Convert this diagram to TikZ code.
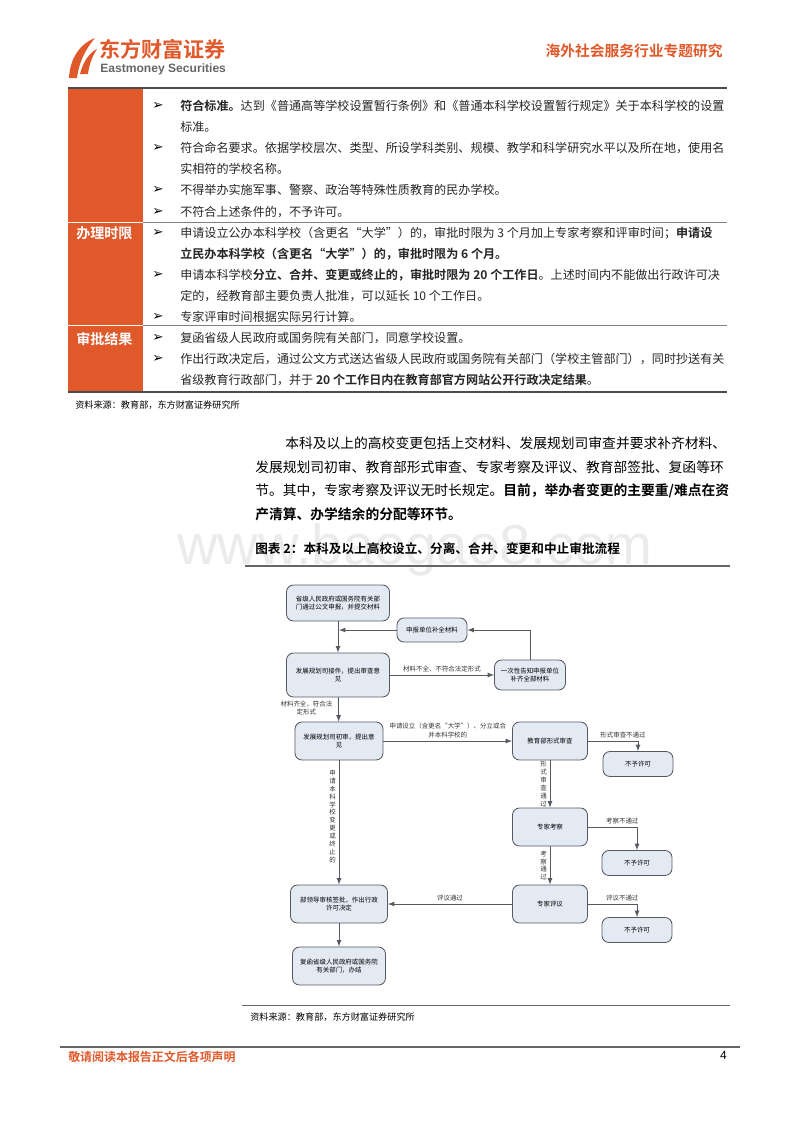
\documentclass[tikz,border=0pt]{standalone}
\usepackage{fontspec}
\setmainfont{Noto Sans CJK SC}[BoldFont={Noto Sans CJK SC Bold}]
\newfontfamily\latinsans{Liberation Sans}
\newfontfamily\symfont{DejaVu Sans}
\usetikzlibrary{positioning}
\definecolor{emorange}{HTML}{E0592A}
\definecolor{boxfill}{HTML}{E4EAF4}
\definecolor{boxline}{HTML}{555A60}
\newcommand{\tsize}{\fontsize{8.6pt}{10pt}\selectfont}
\newcommand{\psize}{\fontsize{9.8pt}{12pt}\selectfont}
\newcommand{\fsize}{\fontsize{4.6pt}{6.2pt}\selectfont}
\tikzset{
  tline/.style={anchor=west, inner sep=0pt, font=\tsize, text=black!85},
  bul/.style={anchor=west, inner sep=0pt, font=\symfont\fontsize{9.5pt}{10pt}\selectfont},
  pline/.style={anchor=west, inner sep=0pt, font=\psize},
  tlabel/.style={anchor=west, inner sep=0pt, font=\fontsize{10pt}{12pt}\selectfont\bfseries, text=white},
  flowbox/.style={draw=boxline, fill=boxfill, rounded corners=5pt, line width=0.6pt,
    align=center, font=\fsize, inner sep=1pt},
  flowarrow/.style={-latex, draw=boxline, line width=0.6pt},
  flabel/.style={font=\fsize, inner sep=1pt, align=center, text=black!80},
  vlabel/.style={font=\fsize, inner sep=1pt, align=center, text=black!80, execute at begin node=\setlength{\baselineskip}{5.6pt}},
}
\begin{document}
\begin{tikzpicture}[x=0.025cm, y=-0.025cm]
    \useasboundingbox (0,0) rectangle (800,1132);

    % header
    \fill[emorange] (69,78) .. controls (70,58) and (80,44) .. (95,38)
        .. controls (85,50) and (79,62) .. (77,78) -- cycle;
    \fill[emorange] (80,74) .. controls (83,62) and (89,53) .. (97,49)
        .. controls (92,57) and (89,65) .. (88,74) -- cycle;
    \node[anchor=west, inner sep=0pt, text=emorange, font=\fontsize{15pt}{17pt}\selectfont\bfseries] (logo) at (99,49) {东方财富证券};
    \node[anchor=west, inner sep=0pt, text=black!60, font=\latinsans\fontsize{8.6pt}{10pt}\selectfont\bfseries] (logoen) at (100,69) {Eastmoney Securities};
    \node[anchor=east, inner sep=0pt, text=emorange, font=\fontsize{10.5pt}{12pt}\selectfont\bfseries] (head) at (723,51) {海外社会服务行业专题研究};

    % table
    \fill[emorange] (68,88) rectangle (143,392);
    \draw[black!70, line width=0.8pt] (68,88) -- (727,88);
    \draw[black!50, line width=0.6pt] (143,222) -- (727,222);
    \draw[black!50, line width=0.6pt] (143,325) -- (727,325);
    \draw[white, line width=0.6pt] (68,222) -- (143,222);
    \draw[white, line width=0.6pt] (68,325) -- (143,325);
    \draw[black!70, line width=0.8pt] (68,392) -- (727,392);
    \node[tlabel] (lab2) at (76,233) {办理时限};
    \node[tlabel] (lab3) at (76,339) {审批结果};

    \foreach \y in {106,148,190,212,233,275,317,338,359}
        \node[bul] at (152,\y) {➢};

    \node[tline] (r1a) at (180,106) {\textbf{符合标准。}达到《普通高等学校设置暂行条例》和《普通本科学校设置暂行规定》关于本科学校的设置};
    \node[tline] (r1b) at (180,127) {标准。};
    \node[tline] (r1c) at (180,148) {符合命名要求。依据学校层次、类型、所设学科类别、规模、教学和科学研究水平以及所在地，使用名};
    \node[tline] (r1d) at (180,169) {实相符的学校名称。};
    \node[tline] (r1e) at (180,190) {不得举办实施军事、警察、政治等特殊性质教育的民办学校。};
    \node[tline] (r1f) at (180,212) {不符合上述条件的，不予许可。};
    \node[tline] (r2a) at (180,233) {申请设立公办本科学校（含更名“大学”）的，审批时限为 3 个月加上专家考察和评审时间；\textbf{申请设}};
    \node[tline] (r2b) at (180,254) {\textbf{立民办本科学校（含更名“大学”）的，审批时限为 6 个月。}};
    \node[tline] (r2c) at (180,275) {申请本科学校\textbf{分立、合并、变更或终止的，审批时限为 20 个工作日}。上述时间内不能做出行政许可决};
    \node[tline] (r2d) at (180,296) {定的，经教育部主要负责人批准，可以延长 10 个工作日。};
    \node[tline] (r2e) at (180,317) {专家评审时间根据实际另行计算。};
    \node[tline] (r3a) at (180,338) {复函省级人民政府或国务院有关部门，同意学校设置。};
    \node[tline] (r3b) at (180,359) {作出行政决定后，通过公文方式送达省级人民政府或国务院有关部门（学校主管部门），同时抄送有关};
    \node[tline] (r3c) at (180,380) {省级教育行政部门，并于 \textbf{20 个工作日内在教育部官方网站公开行政决定结果}。};
    \node[anchor=west, inner sep=0pt, font=\fontsize{6.5pt}{8pt}\selectfont] (src1) at (75,405) {资料来源：教育部，东方财富证券研究所};

    % paragraph
    \node[pline] (p1) at (285,443) {本科及以上的高校变更包括上交材料、发展规划司审查并要求补齐材料、};
    \node[pline] (p2) at (255,467) {发展规划司初审、教育部形式审查、专家考察及评议、教育部签批、复函等环};
    \node[pline] (p3) at (255,491) {节。其中，专家考察及评议无时长规定。\textbf{目前，举办者变更的主要重/难点在资}};
    \node[pline] (p4) at (255,514) {\textbf{产清算、办学结余的分配等环节。}};

    % watermark and caption
    \node[inner sep=0pt, text=black!8, font=\latinsans\fontsize{40pt}{42pt}\selectfont] (wm) at (415,550) {www.baogao8.com};
    \node[anchor=west, inner sep=0pt, font=\fontsize{9pt}{11pt}\selectfont\bfseries] (cap) at (255,549) {图表 2：本科及以上高校设立、分离、合并、变更和中止审批流程};
    \draw[black!60, line width=0.8pt] (245,566) -- (730,566);

    % flowchart
    \node[flowbox, minimum width=2.575cm, minimum height=0.9cm] (sheng) at (338,603) {省级人民政府或国务院有关部\\门通过公文申报，并提交材料};
    \node[flowbox, minimum width=1.75cm, minimum height=0.6cm] (buquan) at (432,630) {申报单位补全材料};
    \node[flowbox, minimum width=2.575cm, minimum height=1.1cm] (jiejian) at (338,675) {发展规划司接件，提出审查意\\见};
    \node[flowbox, minimum width=1.775cm, minimum height=0.75cm] (gaozhi) at (530,675) {一次性告知申报单位\\补齐全部材料};
    \node[flowbox, minimum width=2.2cm, minimum height=0.95cm] (chushen) at (339,741) {发展规划司初审，提出意\\见};
    \node[flowbox, minimum width=1.875cm, minimum height=0.95cm] (xingshi) at (550,741) {教育部形式审查};
    \node[flowbox, minimum width=1.75cm, minimum height=0.625cm] (no1) at (638,764) {不予许可};
    \node[flowbox, minimum width=1.875cm, minimum height=0.95cm] (kaocha) at (550,827) {专家考察};
    \node[flowbox, minimum width=1.75cm, minimum height=0.625cm] (no2) at (637,863) {不予许可};
    \node[flowbox, minimum width=1.875cm, minimum height=0.95cm] (pingyi) at (550,904) {专家评议};
    \node[flowbox, minimum width=1.75cm, minimum height=0.625cm] (no3) at (637,930) {不予许可};
    \node[flowbox, minimum width=2.425cm, minimum height=0.95cm] (qianpi) at (339,904) {部领导审核签批，作出行政\\许可决定};
    \node[flowbox, minimum width=2.325cm, minimum height=0.95cm] (fuhan) at (339,966) {复函省级人民政府或国务院\\有关部门，办结};

    \coordinate (join) at (339,630);
    \draw[flowarrow] (sheng) -- (jiejian);
    \draw[flowarrow] (buquan) -- (join);
    \draw[flowarrow] (jiejian) -- node[flabel, above=1pt] {材料不全、不符合法定形式} (gaozhi);
    \draw[flowarrow] (gaozhi.north) |- (buquan.east);
    \draw[flowarrow] (jiejian) -- (chushen);
    \node[flabel, anchor=east] (qiquan) at (334,708) {材料齐全，符合法\\定形式};
    \draw[flowarrow] (chushen) -- node[flabel, above=1pt] {申请设立（含更名“大学”）、分立或合\\并本科学校的} (xingshi);
    \draw[flowarrow] (xingshi.east) -| node[flabel, pos=0.35, above=1pt] {形式审查不通过} (no1.north);
    \draw[flowarrow] (xingshi) -- node[vlabel, left=1pt] {形\\式\\审\\查\\通\\过} (kaocha);
    \draw[flowarrow] (kaocha.east) -| node[flabel, pos=0.35, above=1pt] {考察不通过} (no2.north);
    \draw[flowarrow] (kaocha) -- node[vlabel, left=1pt] {考\\察\\通\\过} (pingyi);
    \draw[flowarrow] (pingyi.east) -| node[flabel, pos=0.35, above=1pt] {评议不通过} (no3.north);
    \draw[flowarrow] (pingyi) -- node[flabel, above=1pt] {评议通过} (qianpi);
    \draw[flowarrow] (chushen) -- node[vlabel, left=1pt, pos=0.45] {申\\请\\本\\科\\学\\校\\变\\更\\或\\终\\止\\的} (qianpi);
    \draw[flowarrow] (qianpi) -- (fuhan);

    % source and footer
    \draw[black!60, line width=0.6pt] (242,1005) -- (730,1005);
    \node[anchor=west, inner sep=0pt, font=\fontsize{6.5pt}{8pt}\selectfont] (src2) at (250,1017) {资料来源：教育部，东方财富证券研究所};
    \draw[black!60, line width=0.8pt] (60,1047) -- (740,1047);
    \node[anchor=west, inner sep=0pt, text=emorange, font=\fontsize{8.5pt}{10pt}\selectfont\bfseries] (foot) at (68,1057) {敬请阅读本报告正文后各项声明};
    \node[anchor=east, inner sep=0pt, font=\latinsans\fontsize{8.5pt}{10pt}\selectfont] (page) at (727,1055) {4};
\end{tikzpicture}
\end{document}
